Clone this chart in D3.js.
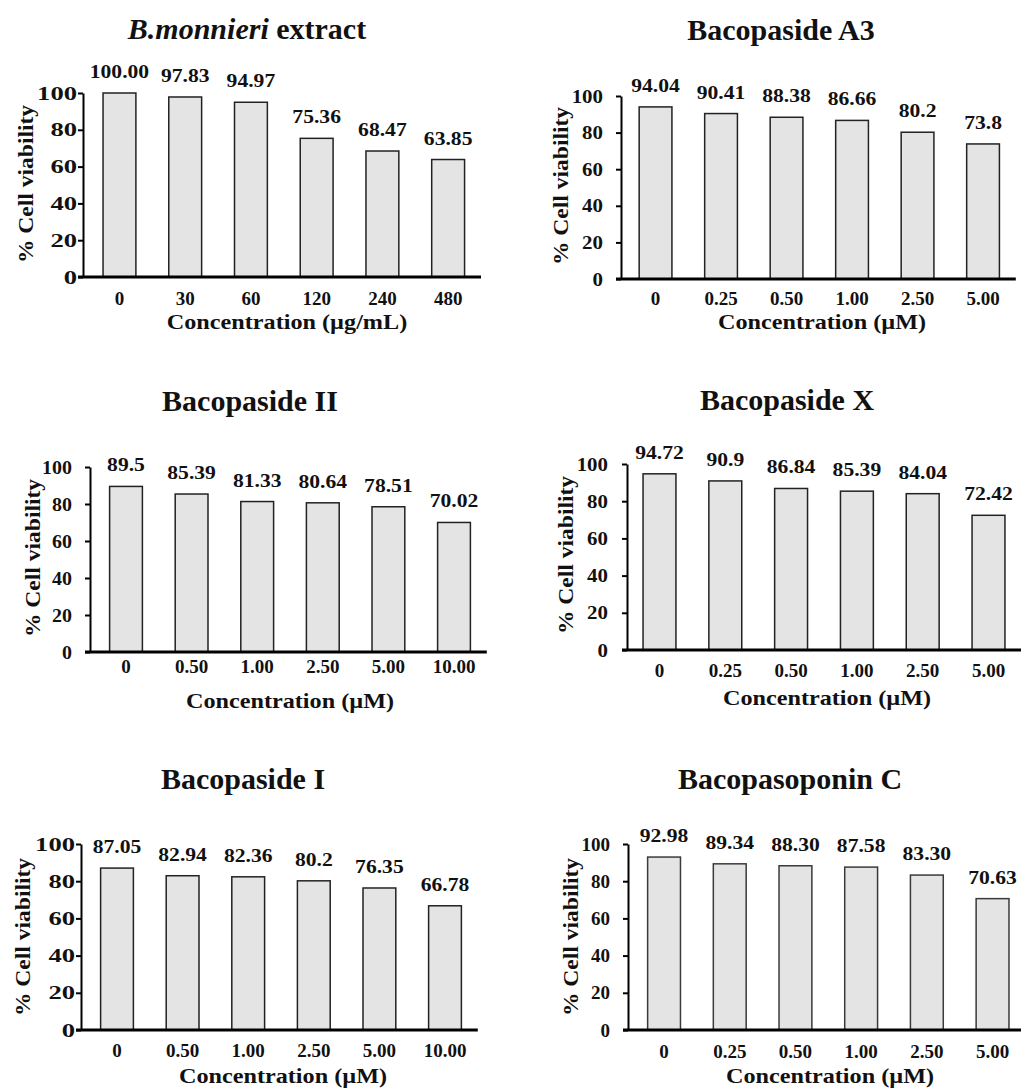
<!DOCTYPE html>
<html>
<head>
<meta charset="utf-8">
<script src="https://cdn.jsdelivr.net/npm/d3@7"></script>
<style>
  html, body { margin: 0; padding: 0; background: #fff; }
  svg { display: block; }
  text { font-family: "Liberation Serif", "Times New Roman", serif; font-weight: bold; fill: #111; }
</style>
</head>
<body>
<svg id="chart" width="1021" height="1090"></svg>
<script>
// ---- data ----
const titles = ["B.monnieri extract", "Bacopaside A3", "Bacopaside II", "Bacopaside X", "Bacopaside I", "Bacopasoponin C"];
const italicTerms = ["B.monnieri"];
const xTitles = ["Concentration (\u00b5g/mL)", "Concentration (\u00b5M)", "Concentration (\u00b5M)",
                 "Concentration (\u00b5M)", "Concentration (\u00b5M)", "Concentration (\u00b5M)"];
const yTitle = "% Cell viability";
const yTicks = [0, 20, 40, 60, 80, 100];

const catExtract = ["0", "30", "60", "120", "240", "480"];
const catA3 = ["0", "0.25", "0.50", "1.00", "2.50", "5.00"];
const catII = ["0", "0.50", "1.00", "2.50", "5.00", "10.00"];
const catX = ["0", "0.25", "0.50", "1.00", "2.50", "5.00"];
const catI = ["0", "0.50", "1.00", "2.50", "5.00", "10.00"];
const catC = ["0", "0.25", "0.50", "1.00", "2.50", "5.00"];

const valExtract = [100.00, 97.83, 94.97, 75.36, 68.47, 63.85];
const valA3 = [94.04, 90.41, 88.38, 86.66, 80.2, 73.8];
const valII = [89.5, 85.39, 81.33, 80.64, 78.51, 70.02];
const valX = [94.72, 90.9, 86.84, 85.39, 84.04, 72.42];
const valI = [87.05, 82.94, 82.36, 80.2, 76.35, 66.78];
const valC = [92.98, 89.34, 88.30, 87.58, 83.30, 70.63];

const categories = [catExtract, catA3, catII, catX, catI, catC];
const values = [valExtract, valA3, valII, valX, valI, valC];
// label number formats: fixed two decimals, or trailing zeros dropped
const labelFormats = [".2f", ".2~f", ".2~f", ".2~f", ".2~f", ".2f"];

// ---- layout of the six panels ----
const layout = [
  { axisX: 83,  bandL: 86.6,  bandR: 481,    y0: 277,  y100: 93,  titleX: 247, titleY: 39,  xtX: 287, xtY: 329,  ytX: 33,  ytY: 184, tickGap: 28, yLabGap: 6,  yLabStretch: 1.4 },
  { axisX: 621, bandL: 622.8, bandR: 1015.8, y0: 279,  y100: 96,  titleX: 781, titleY: 40,  xtX: 822, xtY: 329,  ytX: 568, ytY: 186, tickGap: 26, yLabGap: 18, yLabStretch: 1.1 },
  { axisX: 90,  bandL: 93.2,  bandR: 486.8,  y0: 652,  y100: 467, titleX: 250, titleY: 411, xtX: 290, xtY: 708,  ytX: 40,  ytY: 558, tickGap: 21, yLabGap: 18, yLabStretch: 1.05 },
  { axisX: 627, bandL: 626.6, bandR: 1021.4, y0: 650,  y100: 464, titleX: 787, titleY: 410, xtX: 827, xtY: 705,  ytX: 573, ytY: 555, tickGap: 27, yLabGap: 19, yLabStretch: 1.1 },
  { axisX: 81,  bandL: 84.2,  bandR: 477.8,  y0: 1030, y100: 844, titleX: 243, titleY: 789, xtX: 283, xtY: 1083, ytX: 30,  ytY: 937, tickGap: 27, yLabGap: 6,  yLabStretch: 1.4 },
  { axisX: 628, bandL: 631.2, bandR: 1025.4, y0: 1030, y100: 844, titleX: 790, titleY: 789, xtX: 830, xtY: 1083, ytX: 578, ytY: 937, tickGap: 28, yLabGap: 18, yLabStretch: 1.0 }
];

const svg = d3.select("#chart");

// widen a text element horizontally by a factor
function stretch(sel, factor) {
  sel.each(function () {
    const len = this.getComputedTextLength();
    if (factor !== 1 && len > 0) {
      d3.select(this).attr("textLength", len * factor).attr("lengthAdjust", "spacingAndGlyphs");
    }
  });
}

layout.forEach((L, i) => {
  const cats = categories[i];
  const vals = values[i];
  const fmt = d3.format(labelFormats[i]);
  const g = svg.append("g");

  const x = d3.scaleBand().domain(cats).range([L.bandL, L.bandR])
    .paddingInner(0.5).paddingOuter(0.25);
  const y = d3.scaleLinear().domain([0, 100]).range([L.y0, L.y100]);

  // title (genus name in italics)
  const t = g.append("text").attr("x", L.titleX).attr("y", L.titleY)
    .attr("text-anchor", "middle").style("font-size", "30px");
  const term = italicTerms.find(s => titles[i].startsWith(s));
  if (term) {
    t.append("tspan").style("font-style", "italic").text(term);
    t.append("tspan").text(titles[i].slice(term.length));
  } else {
    t.text(titles[i]);
  }

  // bars
  g.selectAll("rect.bar").data(vals).join("rect")
    .attr("class", "bar")
    .attr("x", (d, j) => x(cats[j]))
    .attr("width", x.bandwidth())
    .attr("y", d => y(d))
    .attr("height", d => y(0) - y(d))
    .attr("fill", "#e4e4e4")
    .attr("stroke", i === 5 ? "#3a3a3a" : "#222")
    .attr("stroke-width", 1.5);

  // value labels above bars
  g.selectAll("text.val").data(vals).join("text")
    .attr("class", "val")
    .attr("x", (d, j) => x(cats[j]) + x.bandwidth() / 2)
    .attr("y", d => y(d) - 15)
    .attr("text-anchor", "middle")
    .style("font-size", "18px")
    .text(d => fmt(d))
    .call(stretch, 1.2);

  // y axis
  const yAxis = d3.axisLeft(y).tickValues(yTicks).tickSize(5).tickSizeOuter(0);
  const ya = g.append("g").attr("transform", `translate(${L.axisX},0)`).call(yAxis);
  ya.select(".domain").attr("stroke", "#000").attr("stroke-width", 2);
  ya.selectAll(".tick line").attr("stroke", "#000").attr("stroke-width", 2);
  ya.selectAll(".tick text")
    .attr("x", -L.yLabGap)
    .attr("text-anchor", "end")
    .style("font-size", "19px").style("font-family", "Liberation Serif, serif").style("font-weight", "bold")
    .attr("fill", "#111")
    .call(stretch, L.yLabStretch);

  // x axis: category labels
  const xAxis = d3.axisBottom(x).tickSize(0);
  const xa = g.append("g").attr("transform", `translate(0,${L.y0})`).call(xAxis);
  xa.select(".domain").remove();
  xa.selectAll(".tick text")
    .attr("y", L.tickGap).attr("dy", 0)
    .style("font-size", "19px").style("font-family", "Liberation Serif, serif").style("font-weight", "bold")
    .attr("fill", "#111");

  // x axis baseline
  g.append("line")
    .attr("x1", L.axisX - 5).attr("x2", Math.min(L.bandR, 1021))
    .attr("y1", y(0)).attr("y2", y(0))
    .attr("stroke", "#000").attr("stroke-width", 3);

  // axis titles
  g.append("text").attr("x", L.xtX).attr("y", L.xtY)
    .attr("text-anchor", "middle").style("font-size", "22px")
    .text(xTitles[i]).call(stretch, 1.1);

  g.append("text")
    .attr("transform", `translate(${L.ytX},${L.ytY}) rotate(-90)`)
    .attr("text-anchor", "middle").style("font-size", "22px")
    .text(yTitle).call(stretch, 1.07);
});
</script>
</body>
</html>
